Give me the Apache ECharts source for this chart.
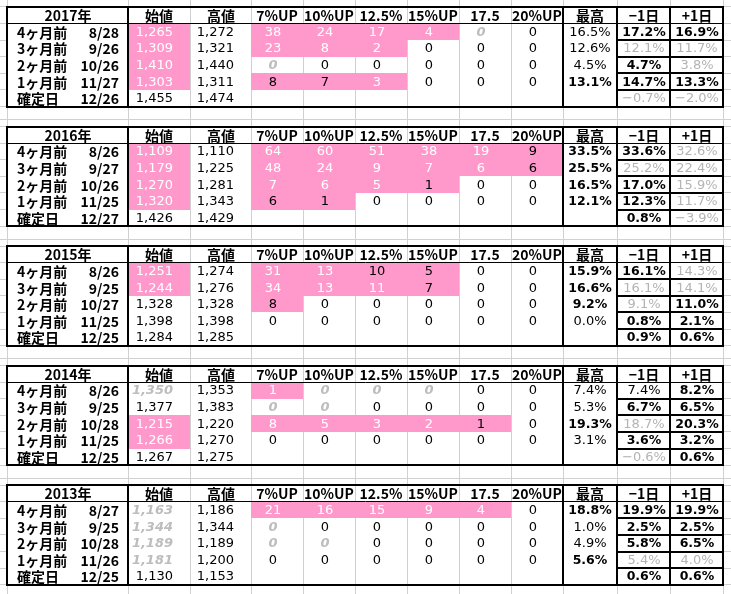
<!DOCTYPE html>
<html><head><meta charset="utf-8">
<script src="https://cdn.jsdelivr.net/npm/echarts@6/dist/echarts.min.js"></script>
<style>html,body{margin:0;padding:0;background:#fff}#c{width:731px;height:594px}</style>
</head><body><div id="c"></div>
<script>
// ---------------- data ----------------
const years = [2017, 2016, 2015, 2014, 2013];
const rowNames = ['4ヶ月前', '3ヶ月前', '2ヶ月前', '1ヶ月前', '確定日'];
const headerCols = ['始値', '高値', '7%UP', '10%UP', '12.5%', '15%UP', '17.5', '20%UP', '最高', '−1日', '+1日'];

const dates2017 = ['8/28', '9/26', '10/26', '11/27', '12/26'];
const open2017 = [1265, 1309, 1410, 1303, 1455];
const high2017 = [1272, 1321, 1440, 1311, 1474];
const ups2017 = [[38, 24, 17, 4, 0, 0], [23, 8, 2, 0, 0, 0], [0, 0, 0, 0, 0, 0], [8, 7, 3, 0, 0, 0]];
const maxPct2017 = [16.5, 12.6, 4.5, 13.1, null];
const prevDay2017 = [17.2, 12.1, 4.7, 14.7, -0.7];
const nextDay2017 = [16.9, 11.7, 3.8, 13.3, -2.0];
const marks2017 = ['W.WWWWi..BB', 'W.WWW....LL', 'W.i......BL', 'W.KKW...BBB', '.........LL'];

const dates2016 = ['8/26', '9/27', '10/26', '11/25', '12/27'];
const open2016 = [1109, 1179, 1270, 1320, 1426];
const high2016 = [1110, 1225, 1281, 1343, 1429];
const ups2016 = [[64, 60, 51, 38, 19, 9], [48, 24, 9, 7, 6, 6], [7, 6, 5, 1, 0, 0], [6, 1, 0, 0, 0, 0]];
const maxPct2016 = [33.5, 25.5, 16.5, 12.1, null];
const prevDay2016 = [33.6, 25.2, 17.0, 12.3, 0.8];
const nextDay2016 = [32.6, 22.4, 15.9, 11.7, -3.9];
const marks2016 = ['W.WWWWWKBBL', 'W.WWWWWKBLL', 'W.WWWK..BBL', 'W.KK....BBL', '.........BL'];

const dates2015 = ['8/26', '9/25', '10/27', '11/25', '12/25'];
const open2015 = [1251, 1244, 1328, 1398, 1284];
const high2015 = [1274, 1276, 1328, 1398, 1285];
const ups2015 = [[31, 13, 10, 5, 0, 0], [34, 13, 11, 7, 0, 0], [8, 0, 0, 0, 0, 0], [0, 0, 0, 0, 0, 0]];
const maxPct2015 = [15.9, 16.6, 9.2, 0.0, null];
const prevDay2015 = [16.1, 16.1, 9.1, 0.8, 0.9];
const nextDay2015 = [14.3, 14.1, 11.0, 2.1, 0.6];
const marks2015 = ['W.WWKK..BBL', 'W.WWWK..BLL', '..K.....BLB', '.........BB', '.........BB'];

const dates2014 = ['8/26', '9/25', '10/28', '11/25', '12/25'];
const open2014 = [1350, 1377, 1215, 1266, 1267];
const high2014 = [1353, 1383, 1220, 1270, 1275];
const ups2014 = [[1, 0, 0, 0, 0, 0], [0, 0, 0, 0, 0, 0], [8, 5, 3, 2, 1, 0], [0, 0, 0, 0, 0, 0]];
const maxPct2014 = [7.4, 5.3, 19.3, 3.1, null];
const prevDay2014 = [7.4, 6.7, 18.7, 3.6, -0.6];
const nextDay2014 = [8.2, 6.5, 20.3, 3.2, 0.6];
const marks2014 = ['i.Wiii....B', '..ii.....BB', 'W.WWWWK.BLB', 'W........BB', '.........LB'];

const dates2013 = ['8/27', '9/25', '10/28', '11/26', '12/25'];
const open2013 = [1163, 1344, 1189, 1181, 1130];
const high2013 = [1186, 1344, 1189, 1200, 1153];
const ups2013 = [[21, 16, 15, 9, 4, 0], [0, 0, 0, 0, 0, 0], [0, 0, 0, 0, 0, 0], [0, 0, 0, 0, 0, 0]];
const maxPct2013 = [18.8, 1.0, 4.9, 5.6, null];
const prevDay2013 = [19.9, 2.5, 5.8, 5.4, 0.6];
const nextDay2013 = [19.9, 2.5, 6.5, 4.0, 0.6];
const marks2013 = ['i.WWWWW.BBB', 'i.i......BB', 'i.ii.....BB', 'i.......BLL', '.........BB'];

// ---------------- layout ----------------
const colW = [121, 62, 61, 52, 52, 52, 52, 52, 52, 54, 53, 53];
const BLOCK_PITCH = 7.2;     // rows per table incl. gap
const GAP_LINE = 0.78;       // sheet gridline inside the gap
const colX = [0];
colW.forEach(w => colX.push(colX[colX.length - 1] + w));
const W = colX[colX.length - 1];

const blocks = [
  { year: years[0], dates: dates2017, open: open2017, high: high2017, ups: ups2017, maxPct: maxPct2017, prev: prevDay2017, next: nextDay2017, marks: marks2017 },
  { year: years[1], dates: dates2016, open: open2016, high: high2016, ups: ups2016, maxPct: maxPct2016, prev: prevDay2016, next: nextDay2016, marks: marks2016 },
  { year: years[2], dates: dates2015, open: open2015, high: high2015, ups: ups2015, maxPct: maxPct2015, prev: prevDay2015, next: nextDay2015, marks: marks2015 },
  { year: years[3], dates: dates2014, open: open2014, high: high2014, ups: ups2014, maxPct: maxPct2014, prev: prevDay2014, next: nextDay2014, marks: marks2014 },
  { year: years[4], dates: dates2013, open: open2013, high: high2013, ups: ups2013, maxPct: maxPct2013, prev: prevDay2013, next: nextDay2013, marks: marks2013 }
];

const fmtNum = v => v.toLocaleString('en-US');
const fmtPct = v => v == null ? '' : (v < 0 ? '−' : '') + Math.abs(v).toFixed(1) + '%';

const PINK = '#ff99cc';
const JP = '"Noto Sans CJK JP", sans-serif';
const NUM = '"DejaVu Sans", sans-serif';

const bgLines = [];   // [x0,y0,x1,y1,w]
const blkLines = [];
const fills = [];     // [x0,y0,x1,y1]
const texts = [];     // [x,y]
const textInfo = [];  // {t, kind, align}

function addText(x, y, t, kind, align) {
  if (t === '' || t == null) return;
  texts.push([x, y]);
  textInfo.push({ t: String(t), kind, align });
}

const YMIN = -0.42, YMAX = 35.36;

// sheet gridlines (vertical)
colX.forEach(x => bgLines.push([x, YMIN, x, YMAX, 1]));

blocks.forEach((bk, b) => {
  const y0 = b * BLOCK_PITCH;
  // sheet gridlines (horizontal) – only visible in the margins beside the tables
  for (let r = 0; r <= 6; r++) {
    bgLines.push([-7, y0 + r, 0, y0 + r, 1]);
    bgLines.push([W, y0 + r, 724, y0 + r, 1]);
  }
  if (b < blocks.length - 1) bgLines.push([-7, y0 + 6 + GAP_LINE, 724, y0 + 6 + GAP_LINE, 1]);

  // header row
  addText(colW[0] / 2, y0 + 0.5, bk.year + '年', 'H', 'center');
  headerCols.forEach((h, k) => addText((colX[k + 1] + colX[k + 2]) / 2, y0 + 0.5, h, 'H', 'center'));

  for (let i = 0; i < 5; i++) {
    const yc = y0 + 1 + i + 0.5;
    addText(colX[0] + 10, yc, rowNames[i], 'R', 'left');
    addText(colX[1] - 9, yc, bk.dates[i], 'R', 'right');
    const m = bk.marks[i];
    const vals = [fmtNum(bk.open[i]), fmtNum(bk.high[i])];
    for (let k = 0; k < 6; k++) vals.push(i < 4 ? String(bk.ups[i][k]) : '');
    vals.push(fmtPct(bk.maxPct[i]), fmtPct(bk.prev[i]), fmtPct(bk.next[i]));
    vals.forEach((v, k) => {
      const c = k + 1;
      const code = m[k];
      if (code === 'W' || code === 'K') fills.push([colX[c], y0 + 1 + i, colX[c + 1], y0 + 2 + i]);
      if (k < 2) addText(colX[c + 1] - 17, yc, v, code, 'right');
      else if (k < 8) addText((colX[c] + colX[c + 1]) / 2 - 4, yc, v, code, 'center');
      else addText((colX[c] + colX[c + 1]) / 2, yc, v, code, 'center');
    });
  }

  // black borders
  blkLines.push([0, y0, W, y0, 2]);
  blkLines.push([0, y0 + 6, W, y0 + 6, 2]);
  blkLines.push([0, y0 + 1, W, y0 + 1, 1]);
  [0, colX[1], colX[9], colX[10], colX[11], W].forEach(x => blkLines.push([x, y0, x, y0 + 6, 2]));
  for (let r = 2; r <= 5; r++) blkLines.push([colX[10], y0 + r, W, y0 + r, 2]);
});

function styleFor(kind) {
  const s = { fontFamily: NUM, fontSize: 13, fontWeight: 'normal', fontStyle: 'normal', fill: '#000' };
  if (kind === 'H' || kind === 'R') { s.fontFamily = JP; s.fontSize = 14; s.fontWeight = 'bold'; }
  else if (kind === 'W') s.fill = '#fff';
  else if (kind === 'i') { s.fill = '#bdbdbd'; s.fontWeight = 'bold'; s.fontStyle = 'italic'; }
  else if (kind === 'B') { s.fontWeight = 'bold'; s.fontSize = 12.5; }
  else if (kind === 'L') { s.fill = '#b4b4b4'; }
  return s;
}

function lineRender(color) {
  return function (params, api) {
    const a = api.coord([api.value(0), api.value(1)]);
    const b = api.coord([api.value(2), api.value(3)]);
    const w = api.value(4);
    const snap = v => (w % 2 ? Math.floor(v) + 0.5 : Math.round(v));
    return {
      type: 'line',
      shape: { x1: snap(a[0]), y1: snap(a[1]), x2: snap(b[0]), y2: snap(b[1]) },
      style: { stroke: color, lineWidth: w, lineCap: 'square' }
    };
  };
}

const chart = echarts.init(document.getElementById('c'), null, { renderer: 'canvas' });
chart.setOption({
  animation: false,
  backgroundColor: '#fff',
  grid: { left: 0, right: 0, top: 0, bottom: 0 },
  xAxis: { type: 'value', min: -7, max: 724, show: false },
  yAxis: { type: 'value', min: YMIN, max: YMAX, inverse: true, show: false },
  series: [
    { type: 'custom', z: 1, silent: true, clip: false, data: bgLines, renderItem: lineRender('#d0d0d0') },
    {
      type: 'custom', z: 2, silent: true, clip: false, data: fills,
      renderItem(params, api) {
        const a = api.coord([api.value(0), api.value(1)]);
        const b = api.coord([api.value(2), api.value(3)]);
        const x = Math.round(a[0]), y = Math.round(a[1]);
        return { type: 'rect', shape: { x, y, width: Math.round(b[0]) - x, height: Math.round(b[1]) - y }, style: { fill: PINK } };
      }
    },
    { type: 'custom', z: 3, silent: true, clip: false, data: blkLines, renderItem: lineRender('#000') },
    {
      type: 'custom', z: 4, silent: true, clip: false, data: texts,
      renderItem(params, api) {
        const p = api.coord([api.value(0), api.value(1)]);
        const info = textInfo[params.dataIndex];
        const s = styleFor(info.kind);
        return {
          type: 'text', x: Math.round(p[0]), y: Math.round(p[1]) + 0.5,
          style: Object.assign({
            text: info.t, align: info.align, textAlign: info.align,
            verticalAlign: 'middle', textVerticalAlign: 'middle'
          }, s)
        };
      }
    }
  ]
});
</script>
</body></html>
